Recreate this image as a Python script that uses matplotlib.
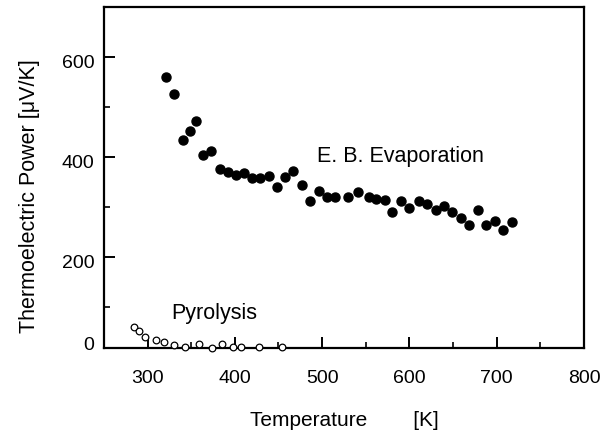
import matplotlib
matplotlib.use("Agg")
import matplotlib.pyplot as plt
import matplotlib.transforms as mtransforms
from matplotlib.ticker import MultipleLocator

# E. B. evaporation (filled circles)
eb_temp = [320.6, 330.6, 340.9, 348.9, 355.8, 363.3, 373.0, 382.5, 391.6, 400.8,
           410.3, 419.5, 429.0, 439.0, 448.5, 457.7, 467.0, 476.7, 485.6, 495.9,
           505.0, 514.5, 529.4, 541.3, 553.2, 562.0, 571.5, 580.3, 590.0, 600.0,
           611.5, 620.3, 629.9, 639.8, 649.0, 658.5, 668.0, 678.3, 688.0, 697.5,
           707.0, 717.0]
eb_power = [560, 527, 435, 452, 473, 404, 413, 377, 371, 364,
            368, 359, 359, 363, 341, 361, 372, 344, 313, 333,
            320, 320, 320, 330, 320, 316, 314, 291, 313, 298,
            313, 306, 294, 303, 290, 279, 264, 294, 265, 273,
            254, 270]

# Pyrolysis (open circles)
py_temp = [284.3, 289.7, 297.4, 309.2, 318.3, 329.8, 342.7, 358.7, 373.3, 385.1,
           397.6, 407.3, 427.1, 454.3]
py_power = [59, 51, 39, 33, 29, 23, 20, 26, 17, 26, 20, 20, 20, 19]

plt.rcParams['font.family'] = ['Liberation Sans', 'DejaVu Sans']

fig = plt.figure(figsize=(6.04, 4.30), dpi=100)
ax = fig.add_axes([0.172, 0.1907, 0.795, 0.793])

ax.plot(eb_temp, eb_power, 'o', color='black', markersize=6.5, clip_on=False, zorder=3)
ax.plot(py_temp, py_power, 'o', markerfacecolor='white', markeredgecolor='black',
        markeredgewidth=0.9, markersize=4.8, clip_on=False, zorder=3)

ax.text(494, 402, 'E. B. Evaporation', fontsize=15.5, va='center', ha='left')
ax.text(327, 88, 'Pyrolysis', fontsize=15.5, va='center', ha='left')

ax.set_xlim(250, 800)
ax.set_ylim(18, 700)
ax.xaxis.set_major_locator(MultipleLocator(100))
ax.xaxis.set_minor_locator(MultipleLocator(50))
ax.yaxis.set_major_locator(MultipleLocator(200))
ax.yaxis.set_minor_locator(MultipleLocator(100))

for s in ax.spines.values():
    s.set_linewidth(1.6)
ax.tick_params(which='major', direction='in', length=8, width=1.4, labelsize=14)
ax.tick_params(which='minor', direction='in', length=4, width=1.2)
ax.tick_params(axis='x', pad=16)
ax.tick_params(axis='y', pad=7)

# y tick labels sit a little below their ticks in the original
offset = mtransforms.ScaledTranslation(0, -3 / 72, fig.dpi_scale_trans)
for lab in ax.get_yticklabels():
    lab.set_transform(lab.get_transform() + offset)
ax.text(-0.021, 22, '0', fontsize=14, ha='right', va='center',
        transform=ax.get_yaxis_transform())

ax.set_xlabel('Temperature        [K]', fontsize=15, labelpad=17)
ax.set_ylabel('Thermoelectric Power [\u03bcV/K]', fontsize=15.5)
ax.yaxis.set_label_coords(-0.133, 0.445)

fig.savefig('out.png', dpi=100)
